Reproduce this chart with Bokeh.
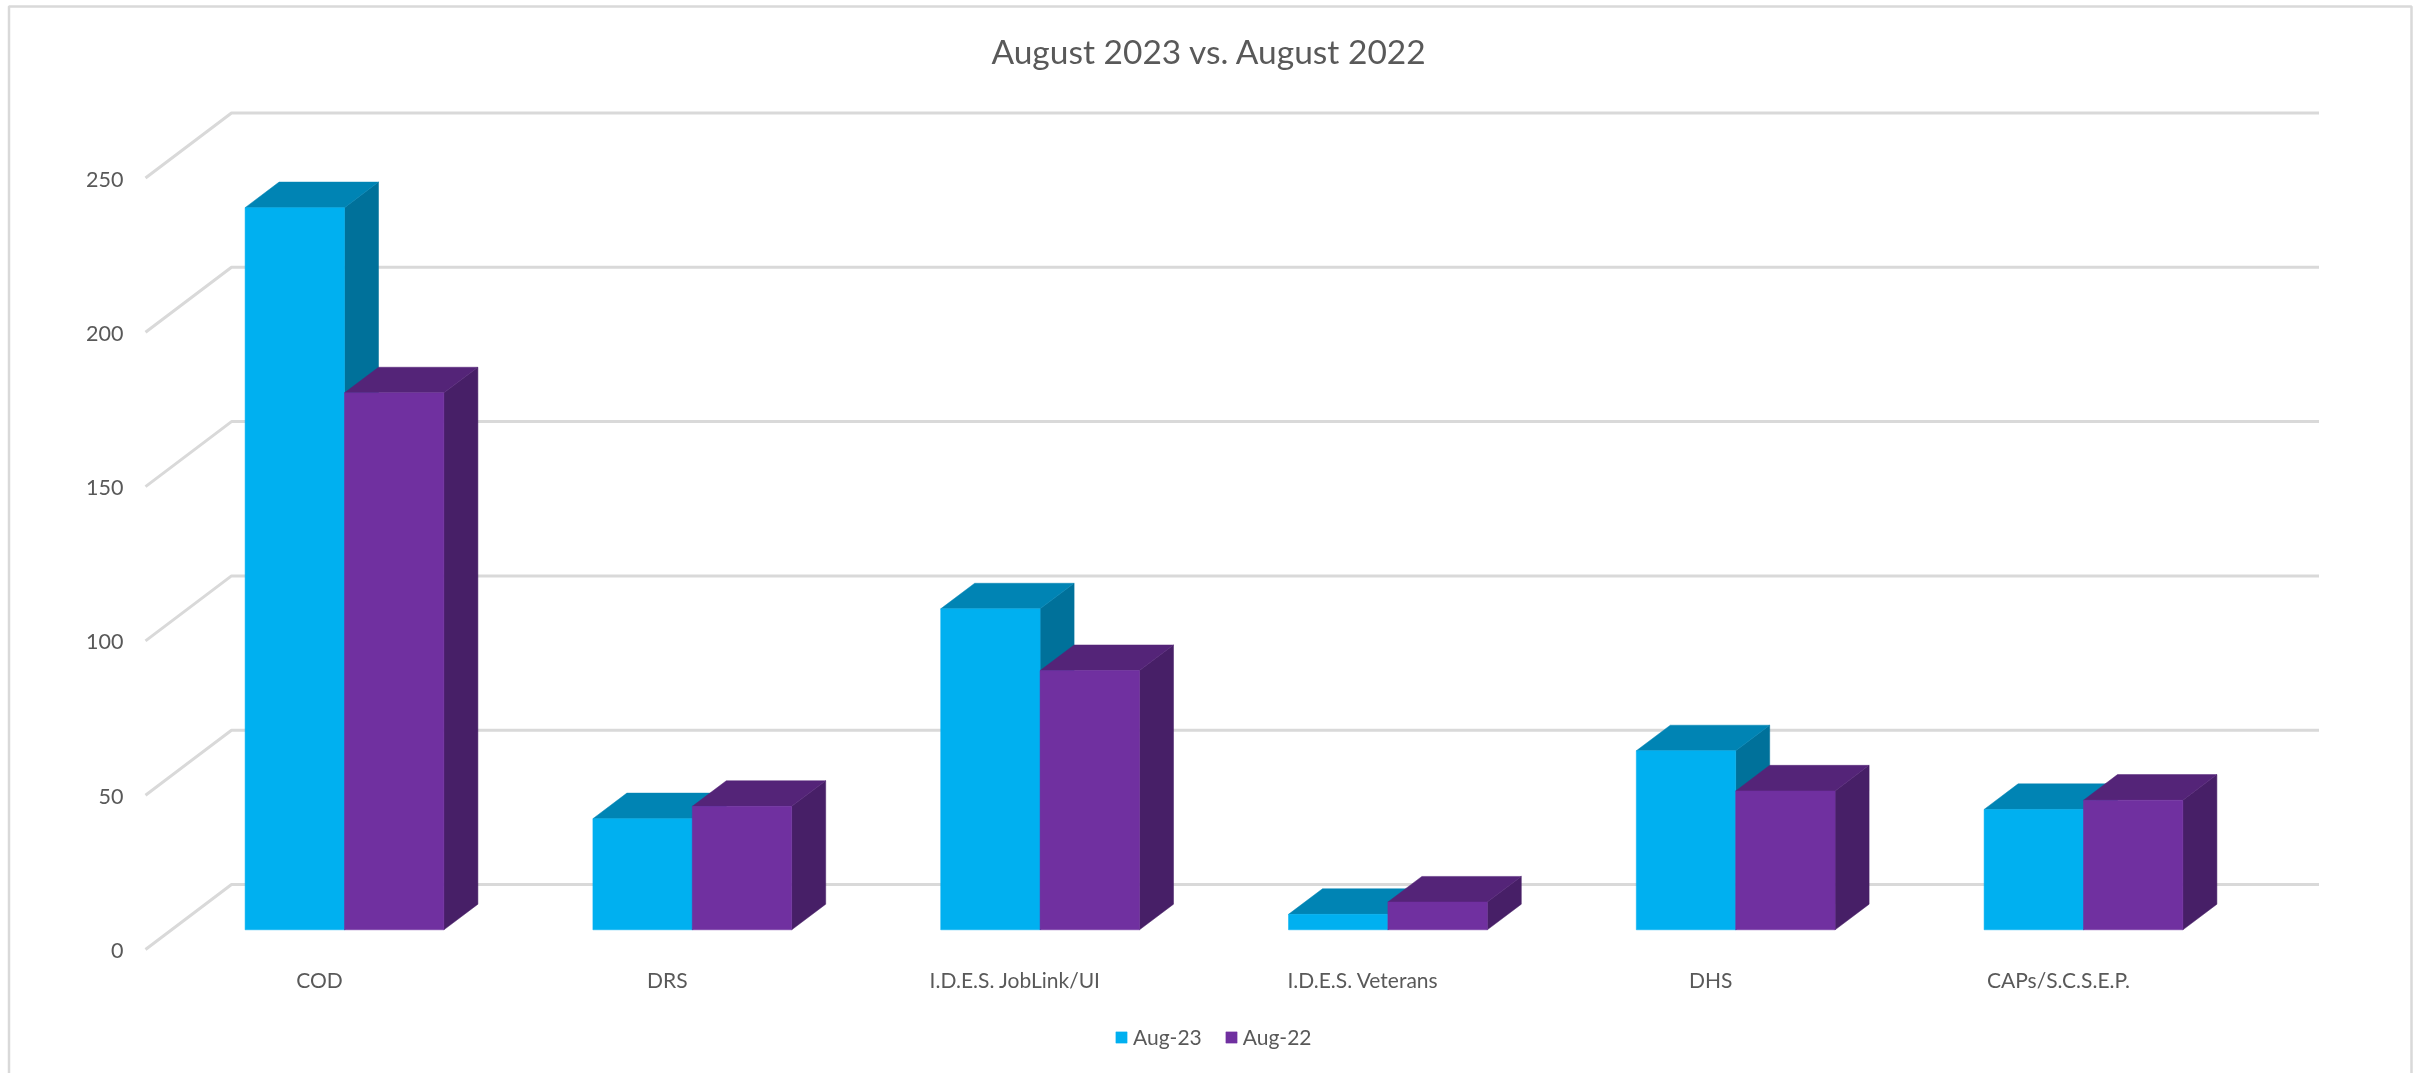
from bokeh.plotting import figure
from bokeh.models import (Range1d, LinearAxis, FixedTicker, BoxAnnotation, Legend, LegendItem, Label)
from bokeh.embed import file_html
from bokeh.resources import INLINE

# ---- data -------------------------------------------------------------
categories = ["COD", "DRS", "I.D.E.S. JobLink/UI", "I.D.E.S. Veterans", "DHS", "CAPs/S.C.S.E.P."]
aug_23 = [234, 36, 104, 5, 58, 39]
aug_22 = [174, 40, 84, 9, 45, 42]
series_names = ["Aug-23", "Aug-22"]
y_ticks = [0, 50, 100, 150, 200, 250]
title_text = "August 2023 vs. August 2022"

# ---- styling / geometry ------------------------------------------------
W, H = 2418, 1073
PX_PER_UNIT = 3.086       # vertical pixels per value unit
PX_PER_CAT = 347.8        # horizontal pixels per category
ORIGIN_X = 344.0          # pixel of first category centre
BASE_Y = 929.3            # pixel of value 0 on the bars' front face
BAR_W = 99.4 / PX_PER_CAT
DX = 34.0 / PX_PER_CAT    # bar depth
DY = 25.6 / PX_PER_UNIT
WALL_L = (231 - ORIGIN_X) / PX_PER_CAT
WALL_R = (2318.5 - ORIGIN_X) / PX_PER_CAT
FLOOR_L = (145 - ORIGIN_X) / PX_PER_CAT
WALL_DY = (BASE_Y - 884) / PX_PER_UNIT
FLOOR_DY = (BASE_Y - 949) / PX_PER_UNIT
GRID = "#D9D9D9"
TEXT = "#595959"
FONT = "Lato"
colors = {
    "Aug-23": ("#00B0F0", "#0084B4", "#00719A"),
    "Aug-22": ("#7030A0", "#542478", "#471F67"),
}

x_range = Range1d((0 - ORIGIN_X) / PX_PER_CAT, (W - ORIGIN_X) / PX_PER_CAT)
y_range = Range1d((BASE_Y - H) / PX_PER_UNIT, BASE_Y / PX_PER_UNIT)

p = figure(width=W, height=H, x_range=x_range, y_range=y_range,
           output_backend="svg", toolbar_location=None,
           x_axis_location=None, y_axis_location=None,
           min_border_top=0, min_border_left=0, min_border_right=0, min_border_bottom=0,
           background_fill_color="white", border_fill_color="white", outline_line_color=None,
           styles={"position": "fixed", "left": "0px", "top": "0px"})
p.grid.visible = False

# chart outer frame
p.add_layout(BoxAnnotation(left=8.5, right=2411, top=6, bottom=1100,
                           left_units="canvas", right_units="canvas",
                           top_units="canvas", bottom_units="canvas",
                           fill_color=None, line_color=GRID, line_alpha=1.0, line_width=2.5,
                           level="underlay"))

# title
p.add_layout(Label(x=1209, y=H - 50, x_units="screen", y_units="screen", text=title_text,
                   text_align="center", text_baseline="middle", text_font=FONT,
                   text_font_size="33.5px", text_color=TEXT))

# gridlines: floor edge -> wall -> right end
p.multi_line(xs=[[FLOOR_L, WALL_L, WALL_R] for _ in y_ticks],
             ys=[[v + FLOOR_DY, v + WALL_DY, v + WALL_DY] for v in y_ticks],
             line_color=GRID, line_width=3, line_join="round")

# bars
legend_items = []
for k, (name, vals) in enumerate(zip(series_names, [aug_23, aug_22])):
    front, top, side = colors[name]
    lefts = [i - BAR_W + k * BAR_W for i in range(len(vals))]
    rights = [l + BAR_W for l in lefts]
    p.patches(xs=[[r, r + DX, r + DX, r] for r in rights],
              ys=[[0, DY, v + DY, v] for v in vals],
              fill_color=side, line_color=side, line_width=0.5)
    p.patches(xs=[[l, r, r + DX, l + DX] for l, r in zip(lefts, rights)],
              ys=[[v, v, v + DY, v + DY] for v in vals],
              fill_color=top, line_color=top, line_width=0.5)
    q = p.quad(left=lefts, right=rights, bottom=0, top=vals,
               fill_color=front, line_color=front, line_width=0.5)
    legend_items.append(LegendItem(label=name, renderers=[q]))

# value axis
p.extra_y_ranges["axis_y"] = Range1d((950 - H) / PX_PER_UNIT, 950 / PX_PER_UNIT)
yaxis = LinearAxis(y_range_name="axis_y", ticker=FixedTicker(ticks=y_ticks),
                   fixed_location=(123 - ORIGIN_X) / PX_PER_CAT,
                   axis_line_color=None, major_tick_line_color=None, minor_tick_line_color=None,
                   major_tick_in=0, major_tick_out=0, major_label_standoff=0,
                   major_label_text_font=FONT, major_label_text_font_size="21.5px",
                   major_label_text_color=TEXT)
p.add_layout(yaxis, "left")

# category axis (labels sit on the front floor edge, slightly left of the bars)
p.extra_x_ranges["axis_x"] = Range1d((0 - (ORIGIN_X - 25)) / PX_PER_CAT, (W - (ORIGIN_X - 25)) / PX_PER_CAT)
xaxis = LinearAxis(x_range_name="axis_x", ticker=FixedTicker(ticks=list(range(len(categories)))),
                   major_label_overrides={i: c for i, c in enumerate(categories)},
                   fixed_location=(BASE_Y - 966) / PX_PER_UNIT,
                   axis_line_color=None, major_tick_line_color=None, minor_tick_line_color=None,
                   major_tick_in=0, major_tick_out=0, major_label_standoff=0,
                   major_label_text_font=FONT, major_label_text_font_size="21px",
                   major_label_text_color=TEXT)
p.add_layout(xaxis, "below")

legend = Legend(items=legend_items, orientation="horizontal", location=(1114, 24),
                border_line_color=None, background_fill_alpha=0, margin=0, padding=0,
                glyph_width=14, glyph_height=14, label_standoff=5, spacing=22,
                label_text_font=FONT, label_text_font_size="21px", label_text_color=TEXT)
p.add_layout(legend, "center")

open("out.html", "w").write(file_html(p, INLINE))
